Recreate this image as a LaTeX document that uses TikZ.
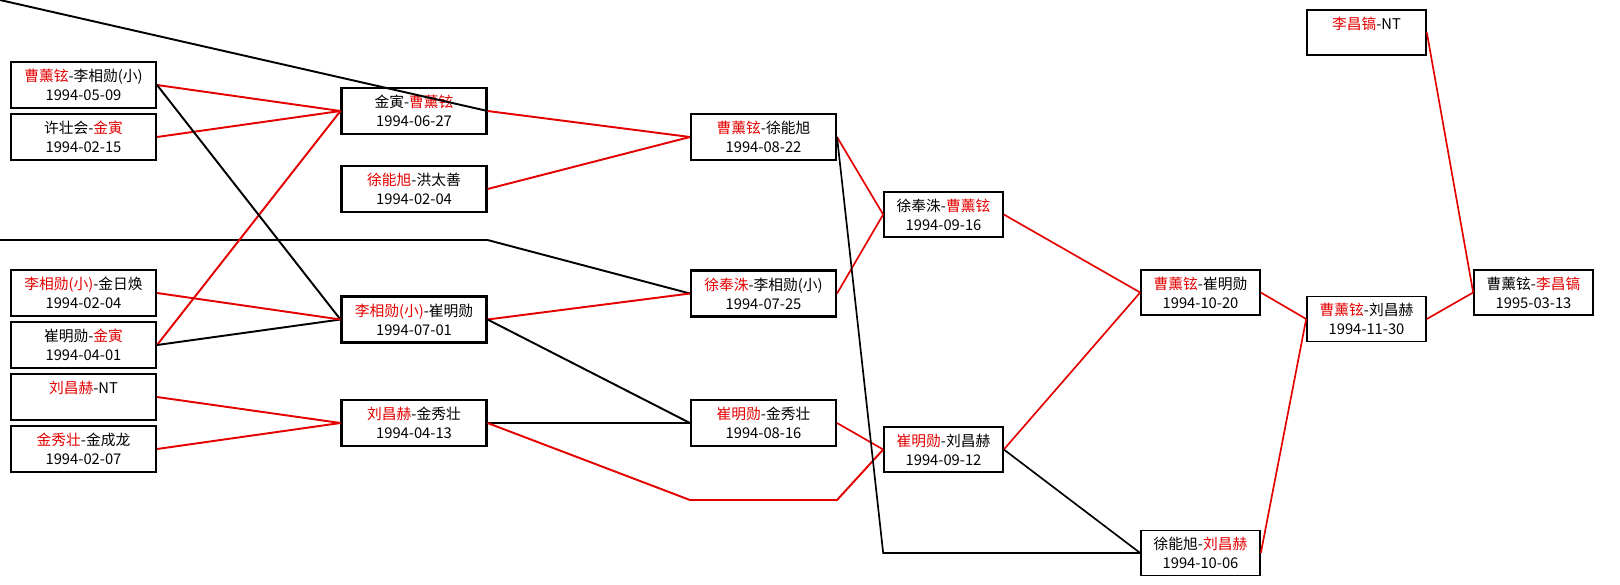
\documentclass[tikz,border=0pt]{standalone}
\usepackage{fontspec}
\newfontfamily\cjk{Noto Sans CJK SC}
\usepackage{tikz}
\usetikzlibrary{calc}
\definecolor{winred}{RGB}{228,0,0}
\newcommand{\winner}[1]{\textcolor{winred}{#1}}

\begin{document}
\begin{tikzpicture}[x=0.02cm,y=-0.02cm,
    game/.style={draw,line width=1.2pt,inner sep=0,align=center,minimum height=0.92cm,
      font=\cjk\fontsize{8.4}{10.8}\selectfont},
    wide/.style={game,minimum width=2.9cm},
    narrow/.style={game,line width=0.95pt,minimum width=2.38cm,minimum height=0.9cm},
    won/.style={winred,line width=1.1pt},
    lost/.style={black,line width=1.1pt}]
      \useasboundingbox (0,0) rectangle (1620,585);
      % First round
      \node[wide] (c1a) at (83.5,85) {\winner{曹薰铉}-李相勋(小)\\1994-05-09};
      \node[wide] (c1b) at (83.5,137) {许壮会-\winner{金寅}\\1994-02-15};
      \node[wide] (c1c) at (83.5,293) {\winner{李相勋(小)}-金日焕\\1994-02-04};
      \node[wide] (c1d) at (83.5,345) {崔明勋-\winner{金寅}\\1994-04-01};
      \node[wide] (c1e) at (83.5,397) {\winner{刘昌赫}-NT\\\phantom{0}};
      \node[wide] (c1f) at (83.5,449) {\winner{金秀壮}-金成龙\\1994-02-07};
      % Second round
      \node[wide] (c2a) at (414,111) {金寅-\winner{曹薰铉}\\1994-06-27};
      \node[wide] (c2b) at (414,189) {\winner{徐能旭}-洪太善\\1994-02-04};
      \node[wide] (c2c) at (414,319.5) {\winner{李相勋(小)}-崔明勋\\1994-07-01};
      \node[wide] (c2d) at (414,423) {\winner{刘昌赫}-金秀壮\\1994-04-13};
      % Third round
      \node[wide] (c3a) at (763.5,137) {\winner{曹薰铉}-徐能旭\\1994-08-22};
      \node[wide] (c3b) at (763.5,293.5) {\winner{徐奉洙}-李相勋(小)\\1994-07-25};
      \node[wide] (c3c) at (763.5,423) {\winner{崔明勋}-金秀壮\\1994-08-16};
      % Later rounds
      \node[narrow] (c4a) at (943.5,214.5) {徐奉洙-\winner{曹薰铉}\\1994-09-16};
      \node[narrow] (c4b) at (943.5,449.5) {\winner{崔明勋}-刘昌赫\\1994-09-12};
      \node[narrow] (c5a) at (1200.5,292.5) {\winner{曹薰铉}-崔明勋\\1994-10-20};
      \node[narrow] (c5b) at (1200.5,553) {徐能旭-\winner{刘昌赫}\\1994-10-06};
      \node[narrow] (c6a) at (1366.5,32.5) {\winner{李昌镐}-NT\\\phantom{0}};
      \node[narrow] (c6b) at (1366.5,319) {\winner{曹薰铉}-刘昌赫\\1994-11-30};
      \node[narrow] (c7a) at (1533.5,292.5) {曹薰铉-\winner{李昌镐}\\1995-03-13};
      % Lines coming in from the left
      \coordinate (inTop) at (0,0);
      \coordinate (inMid) at (0,240);
      \coordinate (dip) at (0,500);
      \draw[lost] (inTop) -- (c2a.east);
      \draw[lost] (inMid) -- (c2a.east |- inMid) -- (c3b.west);
      % Round 1 -> 2
      \draw[won] (c1a.east) -- (c2a.west);
      \draw[won] (c1b.east) -- (c2a.west);
      \draw[won] (c1d.east) -- (c2a.west);
      \draw[lost] (c1a.east) -- (c2c.west);
      \draw[lost] (c1d.east) -- (c2c.west);
      \draw[won] (c1c.east) -- (c2c.west);
      \draw[won] (c1e.east) -- (c2d.west);
      \draw[won] (c1f.east) -- (c2d.west);
      % Round 2 -> 3
      \draw[won] (c2a.east) -- (c3a.west);
      \draw[won] (c2b.east) -- (c3a.west);
      \draw[won] (c2c.east) -- (c3b.west);
      \draw[lost] (c2c.east) -- (c3c.west);
      \draw[lost] (c2d.east) -- (c3c.west);
      \draw[won] (c2d.east) -- (c3c.west |- dip) -- (c3c.east |- dip) -- (c4b.west);
      % Round 3 -> 4
      \draw[won,line width=0.95pt] (c3a.east) -- (c4a.west);
      \draw[won,line width=0.95pt] (c3b.east) -- (c4a.west);
      \draw[won,line width=0.95pt] (c3c.east) -- (c4b.west);
      \draw[lost,line width=0.95pt] (c3a.east) -- (c4a.west |- c5b.west) -- (c5b.west);
      % Final rounds
      \draw[won,line width=0.95pt] (c4a.east) -- (c5a.west);
      \draw[won,line width=0.95pt] (c4b.east) -- (c5a.west);
      \draw[lost,line width=0.95pt] (c4b.east) -- (c5b.west);
      \draw[won,line width=0.95pt] (c5a.east) -- (c6b.west);
      \draw[won,line width=0.95pt] (c5b.east) -- (c6b.west);
      \draw[won,line width=0.95pt] (c6b.east) -- (c7a.west);
      \draw[won,line width=0.95pt] (c6a.east) -- (c7a.west);
\end{tikzpicture}
\end{document}
